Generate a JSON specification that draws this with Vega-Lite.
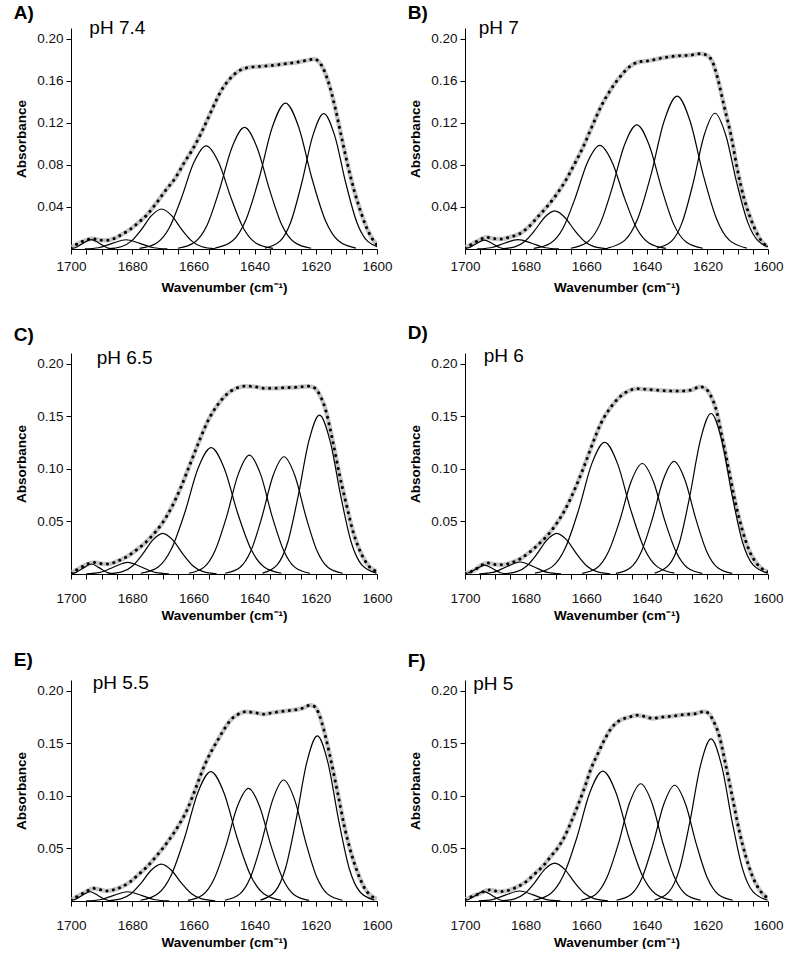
{
"$schema": "https://vega.github.io/schema/vega-lite/v6.json",
"background": "white",
"padding": {"left": 13, "top": 4, "right": 2, "bottom": 0},
"config": {
 "font": "Liberation Sans",
 "view": {"stroke": null},
 "axis": {"grid": false, "domainColor": "#000", "tickColor": "#000", "domainWidth": 1, "tickWidth": 1, "tickSize": 5, "labelFontSize": 13.5, "labelColor": "#111", "titleFontSize": 13.5, "titleFontWeight": "bold", "titleColor": "#000", "labelFont": "Liberation Sans", "titleFont": "Liberation Sans"},
 "axisX": {"labelOverlap": false, "labelFlush": false},
 "axisY": {"titlePadding": 8, "labelPadding": 3},
 "title": {"anchor": "start", "frame": "bounds", "fontSize": 19, "fontWeight": "bold", "font": "Liberation Sans", "color": "#000", "dx": -1}
},
"datasets": {"d": [
{"p":"A","s":"lab","x":1694,"y":0.204,"label":"pH 7.4"},
{"p":"B","s":"lab","x":1695.5,"y":0.204,"label":"pH 7"},
{"p":"C","s":"lab","x":1691.6,"y":0.2,"label":"pH 6.5"},
{"p":"D","s":"lab","x":1693.8,"y":0.2017,"label":"pH 6"},
{"p":"E","s":"lab","x":1692.9,"y":0.2012,"label":"pH 5.5"},
{"p":"F","s":"lab","x":1697.3,"y":0.2002,"label":"pH 5"},

{"p":"A","s":"c1","x":1701.2,"y":0.0001},{"p":"A","s":"c1","x":1698.6,"y":0.0012},{"p":"A","s":"c1","x":1696,"y":0.0055},{"p":"A","s":"c1","x":1693.4,"y":0.009},{"p":"A","s":"c1","x":1690.8,"y":0.0055},{"p":"A","s":"c1","x":1688.2,"y":0.0012},{"p":"A","s":"c1","x":1685.6,"y":0.0001},
{"p":"A","s":"c2","x":1695.5,"y":0.0001},{"p":"A","s":"c2","x":1691,"y":0.0012},{"p":"A","s":"c2","x":1686.5,"y":0.0053},{"p":"A","s":"c2","x":1682,"y":0.0088},{"p":"A","s":"c2","x":1677.5,"y":0.0053},{"p":"A","s":"c2","x":1673,"y":0.0012},{"p":"A","s":"c2","x":1668.5,"y":0.0001},
{"p":"A","s":"c3","x":1688,"y":0.0002},{"p":"A","s":"c3","x":1683.6,"y":0.0021},{"p":"A","s":"c3","x":1680.3,"y":0.0075},{"p":"A","s":"c3","x":1677,"y":0.0185},{"p":"A","s":"c3","x":1673.7,"y":0.0317},{"p":"A","s":"c3","x":1670.4,"y":0.038},{"p":"A","s":"c3","x":1667.1,"y":0.0317},{"p":"A","s":"c3","x":1663.8,"y":0.0185},{"p":"A","s":"c3","x":1660.5,"y":0.0075},{"p":"A","s":"c3","x":1657.2,"y":0.0021},{"p":"A","s":"c3","x":1652.8,"y":0.0002},
{"p":"A","s":"c4","x":1677.6,"y":0.0006},{"p":"A","s":"c4","x":1672.1,"y":0.0055},{"p":"A","s":"c4","x":1668,"y":0.0194},{"p":"A","s":"c4","x":1664,"y":0.0477},{"p":"A","s":"c4","x":1659.9,"y":0.0819},{"p":"A","s":"c4","x":1655.8,"y":0.098},{"p":"A","s":"c4","x":1651.7,"y":0.0819},{"p":"A","s":"c4","x":1647.6,"y":0.0477},{"p":"A","s":"c4","x":1643.6,"y":0.0194},{"p":"A","s":"c4","x":1639.5,"y":0.0055},{"p":"A","s":"c4","x":1634,"y":0.0006},
{"p":"A","s":"c5","x":1665.1,"y":0.0007},{"p":"A","s":"c5","x":1659.6,"y":0.0065},{"p":"A","s":"c5","x":1655.5,"y":0.0229},{"p":"A","s":"c5","x":1651.5,"y":0.0562},{"p":"A","s":"c5","x":1647.4,"y":0.0965},{"p":"A","s":"c5","x":1643.3,"y":0.1155},{"p":"A","s":"c5","x":1639.2,"y":0.0965},{"p":"A","s":"c5","x":1635.1,"y":0.0562},{"p":"A","s":"c5","x":1631.1,"y":0.0229},{"p":"A","s":"c5","x":1627,"y":0.0065},{"p":"A","s":"c5","x":1621.5,"y":0.0007},
{"p":"A","s":"c6","x":1652.9,"y":0.0008},{"p":"A","s":"c6","x":1647.2,"y":0.0078},{"p":"A","s":"c6","x":1642.9,"y":0.0274},{"p":"A","s":"c6","x":1638.5,"y":0.0675},{"p":"A","s":"c6","x":1634.2,"y":0.1159},{"p":"A","s":"c6","x":1629.9,"y":0.1387},{"p":"A","s":"c6","x":1625.6,"y":0.1159},{"p":"A","s":"c6","x":1621.3,"y":0.0675},{"p":"A","s":"c6","x":1616.9,"y":0.0274},{"p":"A","s":"c6","x":1612.6,"y":0.0078},{"p":"A","s":"c6","x":1606.9,"y":0.0008},
{"p":"A","s":"c7","x":1636.6,"y":0.0008},{"p":"A","s":"c7","x":1631.8,"y":0.0072},{"p":"A","s":"c7","x":1628.2,"y":0.0255},{"p":"A","s":"c7","x":1624.6,"y":0.0627},{"p":"A","s":"c7","x":1621,"y":0.1075},{"p":"A","s":"c7","x":1617.4,"y":0.1287},{"p":"A","s":"c7","x":1613.8,"y":0.1075},{"p":"A","s":"c7","x":1610.2,"y":0.0627},{"p":"A","s":"c7","x":1606.6,"y":0.0255},{"p":"A","s":"c7","x":1603,"y":0.0072},{"p":"A","s":"c7","x":1598.2,"y":0.0008},
{"p":"A","s":"t","x":1700,"y":0.001},{"p":"A","s":"t","x":1697.5,"y":0.0055},{"p":"A","s":"t","x":1695,"y":0.0085},{"p":"A","s":"t","x":1693,"y":0.0097},{"p":"A","s":"t","x":1690.5,"y":0.0085},{"p":"A","s":"t","x":1688,"y":0.0082},{"p":"A","s":"t","x":1685.5,"y":0.0105},{"p":"A","s":"t","x":1683,"y":0.0145},{"p":"A","s":"t","x":1680.5,"y":0.019},{"p":"A","s":"t","x":1678,"y":0.025},{"p":"A","s":"t","x":1675,"y":0.033},{"p":"A","s":"t","x":1672,"y":0.044},{"p":"A","s":"t","x":1669,"y":0.056},{"p":"A","s":"t","x":1666,"y":0.067},{"p":"A","s":"t","x":1663,"y":0.082},{"p":"A","s":"t","x":1660,"y":0.096},{"p":"A","s":"t","x":1657,"y":0.113},{"p":"A","s":"t","x":1654,"y":0.132},{"p":"A","s":"t","x":1651,"y":0.15},{"p":"A","s":"t","x":1648,"y":0.162},{"p":"A","s":"t","x":1645,"y":0.1695},{"p":"A","s":"t","x":1642,"y":0.1725},{"p":"A","s":"t","x":1638,"y":0.1735},{"p":"A","s":"t","x":1634,"y":0.1745},{"p":"A","s":"t","x":1630,"y":0.176},{"p":"A","s":"t","x":1626,"y":0.1775},{"p":"A","s":"t","x":1622.5,"y":0.1795},{"p":"A","s":"t","x":1620.5,"y":0.1805},{"p":"A","s":"t","x":1619,"y":0.178},{"p":"A","s":"t","x":1617.5,"y":0.171},{"p":"A","s":"t","x":1615.5,"y":0.155},{"p":"A","s":"t","x":1613.5,"y":0.132},{"p":"A","s":"t","x":1611.5,"y":0.105},{"p":"A","s":"t","x":1609.5,"y":0.079},{"p":"A","s":"t","x":1607.5,"y":0.056},{"p":"A","s":"t","x":1605.5,"y":0.037},{"p":"A","s":"t","x":1603.5,"y":0.021},{"p":"A","s":"t","x":1601.5,"y":0.0095},{"p":"A","s":"t","x":1600,"y":0.004},

{"p":"B","s":"c1","x":1701.4,"y":0.0001},{"p":"B","s":"c1","x":1698.8,"y":0.0012},{"p":"B","s":"c1","x":1696.2,"y":0.0052},{"p":"B","s":"c1","x":1693.6,"y":0.0085},{"p":"B","s":"c1","x":1691,"y":0.0052},{"p":"B","s":"c1","x":1688.4,"y":0.0012},{"p":"B","s":"c1","x":1685.8,"y":0.0001},
{"p":"B","s":"c2","x":1696,"y":0.0001},{"p":"B","s":"c2","x":1691.5,"y":0.0012},{"p":"B","s":"c2","x":1687,"y":0.0055},{"p":"B","s":"c2","x":1682.5,"y":0.009},{"p":"B","s":"c2","x":1678,"y":0.0055},{"p":"B","s":"c2","x":1673.5,"y":0.0012},{"p":"B","s":"c2","x":1669,"y":0.0001},
{"p":"B","s":"c3","x":1688,"y":0.0002},{"p":"B","s":"c3","x":1683.6,"y":0.002},{"p":"B","s":"c3","x":1680.3,"y":0.0072},{"p":"B","s":"c3","x":1677,"y":0.0176},{"p":"B","s":"c3","x":1673.7,"y":0.0302},{"p":"B","s":"c3","x":1670.4,"y":0.0362},{"p":"B","s":"c3","x":1667.1,"y":0.0302},{"p":"B","s":"c3","x":1663.8,"y":0.0176},{"p":"B","s":"c3","x":1660.5,"y":0.0072},{"p":"B","s":"c3","x":1657.2,"y":0.002},{"p":"B","s":"c3","x":1652.8,"y":0.0002},
{"p":"B","s":"c4","x":1677.3,"y":0.0006},{"p":"B","s":"c4","x":1671.8,"y":0.0055},{"p":"B","s":"c4","x":1667.7,"y":0.0195},{"p":"B","s":"c4","x":1663.7,"y":0.0479},{"p":"B","s":"c4","x":1659.6,"y":0.0823},{"p":"B","s":"c4","x":1655.5,"y":0.0985},{"p":"B","s":"c4","x":1651.4,"y":0.0823},{"p":"B","s":"c4","x":1647.3,"y":0.0479},{"p":"B","s":"c4","x":1643.3,"y":0.0195},{"p":"B","s":"c4","x":1639.2,"y":0.0055},{"p":"B","s":"c4","x":1633.7,"y":0.0006},
{"p":"B","s":"c5","x":1665.1,"y":0.0007},{"p":"B","s":"c5","x":1659.6,"y":0.0066},{"p":"B","s":"c5","x":1655.5,"y":0.0234},{"p":"B","s":"c5","x":1651.5,"y":0.0574},{"p":"B","s":"c5","x":1647.4,"y":0.0986},{"p":"B","s":"c5","x":1643.3,"y":0.118},{"p":"B","s":"c5","x":1639.2,"y":0.0986},{"p":"B","s":"c5","x":1635.1,"y":0.0574},{"p":"B","s":"c5","x":1631.1,"y":0.0234},{"p":"B","s":"c5","x":1627,"y":0.0066},{"p":"B","s":"c5","x":1621.5,"y":0.0007},
{"p":"B","s":"c6","x":1653,"y":0.0009},{"p":"B","s":"c6","x":1647.3,"y":0.0082},{"p":"B","s":"c6","x":1643,"y":0.0288},{"p":"B","s":"c6","x":1638.6,"y":0.0707},{"p":"B","s":"c6","x":1634.3,"y":0.1214},{"p":"B","s":"c6","x":1630,"y":0.1453},{"p":"B","s":"c6","x":1625.7,"y":0.1214},{"p":"B","s":"c6","x":1621.4,"y":0.0707},{"p":"B","s":"c6","x":1617,"y":0.0288},{"p":"B","s":"c6","x":1612.7,"y":0.0082},{"p":"B","s":"c6","x":1607,"y":0.0009},
{"p":"B","s":"c7","x":1636.7,"y":0.0008},{"p":"B","s":"c7","x":1631.9,"y":0.0072},{"p":"B","s":"c7","x":1628.3,"y":0.0255},{"p":"B","s":"c7","x":1624.7,"y":0.0628},{"p":"B","s":"c7","x":1621.1,"y":0.1078},{"p":"B","s":"c7","x":1617.5,"y":0.129},{"p":"B","s":"c7","x":1613.9,"y":0.1078},{"p":"B","s":"c7","x":1610.3,"y":0.0628},{"p":"B","s":"c7","x":1606.7,"y":0.0255},{"p":"B","s":"c7","x":1603.1,"y":0.0072},{"p":"B","s":"c7","x":1598.3,"y":0.0008},
{"p":"B","s":"t","x":1700,"y":0.001},{"p":"B","s":"t","x":1697.5,"y":0.005},{"p":"B","s":"t","x":1695,"y":0.009},{"p":"B","s":"t","x":1693,"y":0.0112},{"p":"B","s":"t","x":1690.5,"y":0.0098},{"p":"B","s":"t","x":1688,"y":0.0095},{"p":"B","s":"t","x":1685,"y":0.0115},{"p":"B","s":"t","x":1682,"y":0.0145},{"p":"B","s":"t","x":1679,"y":0.021},{"p":"B","s":"t","x":1676,"y":0.0305},{"p":"B","s":"t","x":1673,"y":0.04},{"p":"B","s":"t","x":1670,"y":0.051},{"p":"B","s":"t","x":1667,"y":0.064},{"p":"B","s":"t","x":1664,"y":0.08},{"p":"B","s":"t","x":1661,"y":0.097},{"p":"B","s":"t","x":1658,"y":0.117},{"p":"B","s":"t","x":1655,"y":0.136},{"p":"B","s":"t","x":1652,"y":0.151},{"p":"B","s":"t","x":1649,"y":0.163},{"p":"B","s":"t","x":1646,"y":0.1725},{"p":"B","s":"t","x":1643,"y":0.1775},{"p":"B","s":"t","x":1639,"y":0.179},{"p":"B","s":"t","x":1635,"y":0.1815},{"p":"B","s":"t","x":1630,"y":0.1835},{"p":"B","s":"t","x":1626,"y":0.184},{"p":"B","s":"t","x":1622.5,"y":0.1855},{"p":"B","s":"t","x":1620.5,"y":0.1845},{"p":"B","s":"t","x":1618.5,"y":0.179},{"p":"B","s":"t","x":1616.5,"y":0.161},{"p":"B","s":"t","x":1614.5,"y":0.136},{"p":"B","s":"t","x":1612,"y":0.105},{"p":"B","s":"t","x":1610,"y":0.074},{"p":"B","s":"t","x":1608,"y":0.049},{"p":"B","s":"t","x":1606,"y":0.031},{"p":"B","s":"t","x":1604,"y":0.017},{"p":"B","s":"t","x":1602,"y":0.007},{"p":"B","s":"t","x":1600,"y":0.002},

{"p":"C","s":"c1","x":1701.1,"y":0.0001},{"p":"C","s":"c1","x":1698.5,"y":0.0013},{"p":"C","s":"c1","x":1695.9,"y":0.0058},{"p":"C","s":"c1","x":1693.3,"y":0.0095},{"p":"C","s":"c1","x":1690.7,"y":0.0058},{"p":"C","s":"c1","x":1688.1,"y":0.0013},{"p":"C","s":"c1","x":1685.5,"y":0.0001},
{"p":"C","s":"c2","x":1695,"y":0.0001},{"p":"C","s":"c2","x":1690.5,"y":0.0015},{"p":"C","s":"c2","x":1686,"y":0.0067},{"p":"C","s":"c2","x":1681.5,"y":0.011},{"p":"C","s":"c2","x":1677,"y":0.0067},{"p":"C","s":"c2","x":1672.5,"y":0.0015},{"p":"C","s":"c2","x":1668,"y":0.0001},
{"p":"C","s":"c3","x":1687.6,"y":0.0002},{"p":"C","s":"c3","x":1683.2,"y":0.0022},{"p":"C","s":"c3","x":1679.9,"y":0.0076},{"p":"C","s":"c3","x":1676.6,"y":0.0188},{"p":"C","s":"c3","x":1673.3,"y":0.0322},{"p":"C","s":"c3","x":1670,"y":0.0386},{"p":"C","s":"c3","x":1666.7,"y":0.0322},{"p":"C","s":"c3","x":1663.4,"y":0.0188},{"p":"C","s":"c3","x":1660.1,"y":0.0076},{"p":"C","s":"c3","x":1656.8,"y":0.0022},{"p":"C","s":"c3","x":1652.4,"y":0.0002},
{"p":"C","s":"c4","x":1677.2,"y":0.0007},{"p":"C","s":"c4","x":1671.5,"y":0.0067},{"p":"C","s":"c4","x":1667.2,"y":0.0237},{"p":"C","s":"c4","x":1662.8,"y":0.0584},{"p":"C","s":"c4","x":1658.5,"y":0.1002},{"p":"C","s":"c4","x":1654.2,"y":0.12},{"p":"C","s":"c4","x":1649.9,"y":0.1002},{"p":"C","s":"c4","x":1645.6,"y":0.0584},{"p":"C","s":"c4","x":1641.2,"y":0.0237},{"p":"C","s":"c4","x":1636.9,"y":0.0067},{"p":"C","s":"c4","x":1631.2,"y":0.0007},
{"p":"C","s":"c5","x":1661.5,"y":0.0007},{"p":"C","s":"c5","x":1656.6,"y":0.0063},{"p":"C","s":"c5","x":1652.9,"y":0.0224},{"p":"C","s":"c5","x":1649.1,"y":0.055},{"p":"C","s":"c5","x":1645.4,"y":0.0944},{"p":"C","s":"c5","x":1641.7,"y":0.113},{"p":"C","s":"c5","x":1638,"y":0.0944},{"p":"C","s":"c5","x":1634.3,"y":0.055},{"p":"C","s":"c5","x":1630.5,"y":0.0224},{"p":"C","s":"c5","x":1626.8,"y":0.0063},{"p":"C","s":"c5","x":1621.9,"y":0.0007},
{"p":"C","s":"c6","x":1649.6,"y":0.0007},{"p":"C","s":"c6","x":1644.8,"y":0.0062},{"p":"C","s":"c6","x":1641.2,"y":0.022},{"p":"C","s":"c6","x":1637.6,"y":0.0542},{"p":"C","s":"c6","x":1634,"y":0.0931},{"p":"C","s":"c6","x":1630.4,"y":0.1114},{"p":"C","s":"c6","x":1626.8,"y":0.0931},{"p":"C","s":"c6","x":1623.2,"y":0.0542},{"p":"C","s":"c6","x":1619.6,"y":0.022},{"p":"C","s":"c6","x":1616,"y":0.0062},{"p":"C","s":"c6","x":1611.2,"y":0.0007},
{"p":"C","s":"c7","x":1637.4,"y":0.0009},{"p":"C","s":"c7","x":1632.7,"y":0.0085},{"p":"C","s":"c7","x":1629.2,"y":0.0299},{"p":"C","s":"c7","x":1625.8,"y":0.0735},{"p":"C","s":"c7","x":1622.3,"y":0.1261},{"p":"C","s":"c7","x":1618.8,"y":0.151},{"p":"C","s":"c7","x":1615.3,"y":0.1261},{"p":"C","s":"c7","x":1611.8,"y":0.0735},{"p":"C","s":"c7","x":1608.4,"y":0.0299},{"p":"C","s":"c7","x":1604.9,"y":0.0085},{"p":"C","s":"c7","x":1600.2,"y":0.0009},
{"p":"C","s":"t","x":1700,"y":0.001},{"p":"C","s":"t","x":1697.5,"y":0.005},{"p":"C","s":"t","x":1695,"y":0.009},{"p":"C","s":"t","x":1692.5,"y":0.011},{"p":"C","s":"t","x":1690,"y":0.0098},{"p":"C","s":"t","x":1687.5,"y":0.0096},{"p":"C","s":"t","x":1685,"y":0.012},{"p":"C","s":"t","x":1682,"y":0.016},{"p":"C","s":"t","x":1679,"y":0.022},{"p":"C","s":"t","x":1676,"y":0.029},{"p":"C","s":"t","x":1673,"y":0.038},{"p":"C","s":"t","x":1670,"y":0.049},{"p":"C","s":"t","x":1667,"y":0.064},{"p":"C","s":"t","x":1664,"y":0.083},{"p":"C","s":"t","x":1661,"y":0.105},{"p":"C","s":"t","x":1658,"y":0.127},{"p":"C","s":"t","x":1655,"y":0.147},{"p":"C","s":"t","x":1652,"y":0.161},{"p":"C","s":"t","x":1649,"y":0.171},{"p":"C","s":"t","x":1646,"y":0.1765},{"p":"C","s":"t","x":1643,"y":0.1785},{"p":"C","s":"t","x":1640,"y":0.178},{"p":"C","s":"t","x":1637,"y":0.1765},{"p":"C","s":"t","x":1634,"y":0.1765},{"p":"C","s":"t","x":1630,"y":0.177},{"p":"C","s":"t","x":1626,"y":0.1775},{"p":"C","s":"t","x":1622.5,"y":0.1785},{"p":"C","s":"t","x":1620.5,"y":0.177},{"p":"C","s":"t","x":1618.5,"y":0.169},{"p":"C","s":"t","x":1617,"y":0.158},{"p":"C","s":"t","x":1614.5,"y":0.127},{"p":"C","s":"t","x":1612.3,"y":0.095},{"p":"C","s":"t","x":1610,"y":0.066},{"p":"C","s":"t","x":1608,"y":0.042},{"p":"C","s":"t","x":1606,"y":0.025},{"p":"C","s":"t","x":1604,"y":0.013},{"p":"C","s":"t","x":1602,"y":0.0055},{"p":"C","s":"t","x":1600,"y":0.0025},

{"p":"D","s":"c1","x":1701.3,"y":0.0001},{"p":"D","s":"c1","x":1698.7,"y":0.0012},{"p":"D","s":"c1","x":1696.1,"y":0.0052},{"p":"D","s":"c1","x":1693.5,"y":0.0085},{"p":"D","s":"c1","x":1690.9,"y":0.0052},{"p":"D","s":"c1","x":1688.3,"y":0.0012},{"p":"D","s":"c1","x":1685.7,"y":0.0001},
{"p":"D","s":"c2","x":1695.3,"y":0.0001},{"p":"D","s":"c2","x":1690.8,"y":0.0015},{"p":"D","s":"c2","x":1686.3,"y":0.0069},{"p":"D","s":"c2","x":1681.8,"y":0.0114},{"p":"D","s":"c2","x":1677.3,"y":0.0069},{"p":"D","s":"c2","x":1672.8,"y":0.0015},{"p":"D","s":"c2","x":1668.3,"y":0.0001},
{"p":"D","s":"c3","x":1687.3,"y":0.0002},{"p":"D","s":"c3","x":1682.9,"y":0.0022},{"p":"D","s":"c3","x":1679.6,"y":0.0076},{"p":"D","s":"c3","x":1676.3,"y":0.0188},{"p":"D","s":"c3","x":1673,"y":0.0322},{"p":"D","s":"c3","x":1669.7,"y":0.0386},{"p":"D","s":"c3","x":1666.4,"y":0.0322},{"p":"D","s":"c3","x":1663.1,"y":0.0188},{"p":"D","s":"c3","x":1659.8,"y":0.0076},{"p":"D","s":"c3","x":1656.5,"y":0.0022},{"p":"D","s":"c3","x":1652.1,"y":0.0002},
{"p":"D","s":"c4","x":1676.9,"y":0.0008},{"p":"D","s":"c4","x":1671.2,"y":0.007},{"p":"D","s":"c4","x":1666.9,"y":0.0247},{"p":"D","s":"c4","x":1662.5,"y":0.0609},{"p":"D","s":"c4","x":1658.2,"y":0.1044},{"p":"D","s":"c4","x":1653.9,"y":0.125},{"p":"D","s":"c4","x":1649.6,"y":0.1044},{"p":"D","s":"c4","x":1645.3,"y":0.0609},{"p":"D","s":"c4","x":1640.9,"y":0.0247},{"p":"D","s":"c4","x":1636.6,"y":0.007},{"p":"D","s":"c4","x":1630.9,"y":0.0008},
{"p":"D","s":"c5","x":1661.3,"y":0.0006},{"p":"D","s":"c5","x":1656.4,"y":0.0059},{"p":"D","s":"c5","x":1652.7,"y":0.0208},{"p":"D","s":"c5","x":1648.9,"y":0.0511},{"p":"D","s":"c5","x":1645.2,"y":0.0877},{"p":"D","s":"c5","x":1641.5,"y":0.105},{"p":"D","s":"c5","x":1637.8,"y":0.0877},{"p":"D","s":"c5","x":1634.1,"y":0.0511},{"p":"D","s":"c5","x":1630.3,"y":0.0208},{"p":"D","s":"c5","x":1626.6,"y":0.0059},{"p":"D","s":"c5","x":1621.7,"y":0.0006},
{"p":"D","s":"c6","x":1650.2,"y":0.0006},{"p":"D","s":"c6","x":1645.4,"y":0.006},{"p":"D","s":"c6","x":1641.8,"y":0.0212},{"p":"D","s":"c6","x":1638.2,"y":0.0521},{"p":"D","s":"c6","x":1634.6,"y":0.0894},{"p":"D","s":"c6","x":1631,"y":0.107},{"p":"D","s":"c6","x":1627.4,"y":0.0894},{"p":"D","s":"c6","x":1623.8,"y":0.0521},{"p":"D","s":"c6","x":1620.2,"y":0.0212},{"p":"D","s":"c6","x":1616.6,"y":0.006},{"p":"D","s":"c6","x":1611.8,"y":0.0006},
{"p":"D","s":"c7","x":1637.4,"y":0.0009},{"p":"D","s":"c7","x":1632.7,"y":0.0086},{"p":"D","s":"c7","x":1629.2,"y":0.0302},{"p":"D","s":"c7","x":1625.8,"y":0.0742},{"p":"D","s":"c7","x":1622.3,"y":0.1274},{"p":"D","s":"c7","x":1618.8,"y":0.1525},{"p":"D","s":"c7","x":1615.3,"y":0.1274},{"p":"D","s":"c7","x":1611.8,"y":0.0742},{"p":"D","s":"c7","x":1608.4,"y":0.0302},{"p":"D","s":"c7","x":1604.9,"y":0.0086},{"p":"D","s":"c7","x":1600.2,"y":0.0009},
{"p":"D","s":"t","x":1700,"y":0.0006},{"p":"D","s":"t","x":1697,"y":0.0035},{"p":"D","s":"t","x":1694.5,"y":0.0085},{"p":"D","s":"t","x":1692.5,"y":0.0105},{"p":"D","s":"t","x":1690,"y":0.009},{"p":"D","s":"t","x":1687.5,"y":0.0088},{"p":"D","s":"t","x":1685,"y":0.0105},{"p":"D","s":"t","x":1682,"y":0.014},{"p":"D","s":"t","x":1679,"y":0.02},{"p":"D","s":"t","x":1676,"y":0.0275},{"p":"D","s":"t","x":1673,"y":0.036},{"p":"D","s":"t","x":1670,"y":0.047},{"p":"D","s":"t","x":1667,"y":0.061},{"p":"D","s":"t","x":1664,"y":0.079},{"p":"D","s":"t","x":1661,"y":0.1},{"p":"D","s":"t","x":1658,"y":0.123},{"p":"D","s":"t","x":1655,"y":0.144},{"p":"D","s":"t","x":1652,"y":0.158},{"p":"D","s":"t","x":1649,"y":0.168},{"p":"D","s":"t","x":1646,"y":0.174},{"p":"D","s":"t","x":1643,"y":0.176},{"p":"D","s":"t","x":1640,"y":0.1755},{"p":"D","s":"t","x":1636,"y":0.1745},{"p":"D","s":"t","x":1632,"y":0.174},{"p":"D","s":"t","x":1628,"y":0.174},{"p":"D","s":"t","x":1625,"y":0.175},{"p":"D","s":"t","x":1622.5,"y":0.178},{"p":"D","s":"t","x":1620.5,"y":0.176},{"p":"D","s":"t","x":1619,"y":0.17},{"p":"D","s":"t","x":1617,"y":0.155},{"p":"D","s":"t","x":1615,"y":0.128},{"p":"D","s":"t","x":1612.8,"y":0.097},{"p":"D","s":"t","x":1610.7,"y":0.067},{"p":"D","s":"t","x":1608.5,"y":0.042},{"p":"D","s":"t","x":1606.3,"y":0.023},{"p":"D","s":"t","x":1604,"y":0.011},{"p":"D","s":"t","x":1602,"y":0.005},{"p":"D","s":"t","x":1600,"y":0.002},

{"p":"E","s":"c1","x":1701.6,"y":0.0001},{"p":"E","s":"c1","x":1699,"y":0.0012},{"p":"E","s":"c1","x":1696.4,"y":0.0053},{"p":"E","s":"c1","x":1693.8,"y":0.0088},{"p":"E","s":"c1","x":1691.2,"y":0.0053},{"p":"E","s":"c1","x":1688.6,"y":0.0012},{"p":"E","s":"c1","x":1686,"y":0.0001},
{"p":"E","s":"c2","x":1695,"y":0.0001},{"p":"E","s":"c2","x":1690.5,"y":0.0012},{"p":"E","s":"c2","x":1686,"y":0.0053},{"p":"E","s":"c2","x":1681.5,"y":0.0088},{"p":"E","s":"c2","x":1677,"y":0.0053},{"p":"E","s":"c2","x":1672.5,"y":0.0012},{"p":"E","s":"c2","x":1668,"y":0.0001},
{"p":"E","s":"c3","x":1688.1,"y":0.0002},{"p":"E","s":"c3","x":1683.7,"y":0.002},{"p":"E","s":"c3","x":1680.4,"y":0.0069},{"p":"E","s":"c3","x":1677.1,"y":0.017},{"p":"E","s":"c3","x":1673.8,"y":0.0292},{"p":"E","s":"c3","x":1670.5,"y":0.035},{"p":"E","s":"c3","x":1667.2,"y":0.0292},{"p":"E","s":"c3","x":1663.9,"y":0.017},{"p":"E","s":"c3","x":1660.6,"y":0.0069},{"p":"E","s":"c3","x":1657.3,"y":0.002},{"p":"E","s":"c3","x":1652.9,"y":0.0002},
{"p":"E","s":"c4","x":1677.3,"y":0.0007},{"p":"E","s":"c4","x":1671.6,"y":0.0069},{"p":"E","s":"c4","x":1667.3,"y":0.0243},{"p":"E","s":"c4","x":1662.9,"y":0.0599},{"p":"E","s":"c4","x":1658.6,"y":0.1027},{"p":"E","s":"c4","x":1654.3,"y":0.123},{"p":"E","s":"c4","x":1650,"y":0.1027},{"p":"E","s":"c4","x":1645.7,"y":0.0599},{"p":"E","s":"c4","x":1641.3,"y":0.0243},{"p":"E","s":"c4","x":1637,"y":0.0069},{"p":"E","s":"c4","x":1631.3,"y":0.0007},
{"p":"E","s":"c5","x":1661.8,"y":0.0006},{"p":"E","s":"c5","x":1656.9,"y":0.006},{"p":"E","s":"c5","x":1653.2,"y":0.0212},{"p":"E","s":"c5","x":1649.4,"y":0.0521},{"p":"E","s":"c5","x":1645.7,"y":0.0894},{"p":"E","s":"c5","x":1642,"y":0.107},{"p":"E","s":"c5","x":1638.3,"y":0.0894},{"p":"E","s":"c5","x":1634.6,"y":0.0521},{"p":"E","s":"c5","x":1630.8,"y":0.0212},{"p":"E","s":"c5","x":1627.1,"y":0.006},{"p":"E","s":"c5","x":1622.2,"y":0.0006},
{"p":"E","s":"c6","x":1649.7,"y":0.0007},{"p":"E","s":"c6","x":1644.9,"y":0.0065},{"p":"E","s":"c6","x":1641.3,"y":0.0228},{"p":"E","s":"c6","x":1637.7,"y":0.056},{"p":"E","s":"c6","x":1634.1,"y":0.0961},{"p":"E","s":"c6","x":1630.5,"y":0.115},{"p":"E","s":"c6","x":1626.9,"y":0.0961},{"p":"E","s":"c6","x":1623.3,"y":0.056},{"p":"E","s":"c6","x":1619.7,"y":0.0228},{"p":"E","s":"c6","x":1616.1,"y":0.0065},{"p":"E","s":"c6","x":1611.3,"y":0.0007},
{"p":"E","s":"c7","x":1638.1,"y":0.0009},{"p":"E","s":"c7","x":1633.4,"y":0.0088},{"p":"E","s":"c7","x":1629.9,"y":0.0311},{"p":"E","s":"c7","x":1626.5,"y":0.0764},{"p":"E","s":"c7","x":1623,"y":0.1311},{"p":"E","s":"c7","x":1619.5,"y":0.157},{"p":"E","s":"c7","x":1616,"y":0.1311},{"p":"E","s":"c7","x":1612.5,"y":0.0764},{"p":"E","s":"c7","x":1609.1,"y":0.0311},{"p":"E","s":"c7","x":1605.6,"y":0.0088},{"p":"E","s":"c7","x":1600.9,"y":0.0009},
{"p":"E","s":"t","x":1700,"y":0.001},{"p":"E","s":"t","x":1697.5,"y":0.005},{"p":"E","s":"t","x":1695,"y":0.009},{"p":"E","s":"t","x":1692.5,"y":0.012},{"p":"E","s":"t","x":1690.5,"y":0.0108},{"p":"E","s":"t","x":1688.5,"y":0.0095},{"p":"E","s":"t","x":1686,"y":0.0107},{"p":"E","s":"t","x":1683,"y":0.014},{"p":"E","s":"t","x":1680.5,"y":0.0186},{"p":"E","s":"t","x":1678,"y":0.025},{"p":"E","s":"t","x":1675,"y":0.033},{"p":"E","s":"t","x":1672,"y":0.043},{"p":"E","s":"t","x":1669.5,"y":0.052},{"p":"E","s":"t","x":1667,"y":0.062},{"p":"E","s":"t","x":1665,"y":0.071},{"p":"E","s":"t","x":1662,"y":0.087},{"p":"E","s":"t","x":1659,"y":0.109},{"p":"E","s":"t","x":1656.5,"y":0.128},{"p":"E","s":"t","x":1654,"y":0.143},{"p":"E","s":"t","x":1652,"y":0.153},{"p":"E","s":"t","x":1650,"y":0.163},{"p":"E","s":"t","x":1647.5,"y":0.173},{"p":"E","s":"t","x":1645,"y":0.178},{"p":"E","s":"t","x":1643,"y":0.1798},{"p":"E","s":"t","x":1640,"y":0.179},{"p":"E","s":"t","x":1637,"y":0.1775},{"p":"E","s":"t","x":1634,"y":0.179},{"p":"E","s":"t","x":1630,"y":0.1805},{"p":"E","s":"t","x":1626,"y":0.182},{"p":"E","s":"t","x":1624,"y":0.1835},{"p":"E","s":"t","x":1622,"y":0.186},{"p":"E","s":"t","x":1620.5,"y":0.185},{"p":"E","s":"t","x":1619,"y":0.178},{"p":"E","s":"t","x":1617.5,"y":0.164},{"p":"E","s":"t","x":1615,"y":0.133},{"p":"E","s":"t","x":1612.8,"y":0.102},{"p":"E","s":"t","x":1610.6,"y":0.07},{"p":"E","s":"t","x":1608.4,"y":0.045},{"p":"E","s":"t","x":1606.2,"y":0.026},{"p":"E","s":"t","x":1604,"y":0.012},{"p":"E","s":"t","x":1602,"y":0.005},{"p":"E","s":"t","x":1600,"y":0.002},

{"p":"F","s":"c1","x":1701.6,"y":0.0001},{"p":"F","s":"c1","x":1699,"y":0.0012},{"p":"F","s":"c1","x":1696.4,"y":0.0055},{"p":"F","s":"c1","x":1693.8,"y":0.009},{"p":"F","s":"c1","x":1691.2,"y":0.0055},{"p":"F","s":"c1","x":1688.6,"y":0.0012},{"p":"F","s":"c1","x":1686,"y":0.0001},
{"p":"F","s":"c2","x":1695.5,"y":0.0001},{"p":"F","s":"c2","x":1691,"y":0.0013},{"p":"F","s":"c2","x":1686.5,"y":0.0058},{"p":"F","s":"c2","x":1682,"y":0.0095},{"p":"F","s":"c2","x":1677.5,"y":0.0058},{"p":"F","s":"c2","x":1673,"y":0.0013},{"p":"F","s":"c2","x":1668.5,"y":0.0001},
{"p":"F","s":"c3","x":1688,"y":0.0002},{"p":"F","s":"c3","x":1683.6,"y":0.002},{"p":"F","s":"c3","x":1680.3,"y":0.0071},{"p":"F","s":"c3","x":1677,"y":0.0175},{"p":"F","s":"c3","x":1673.7,"y":0.0301},{"p":"F","s":"c3","x":1670.4,"y":0.036},{"p":"F","s":"c3","x":1667.1,"y":0.0301},{"p":"F","s":"c3","x":1663.8,"y":0.0175},{"p":"F","s":"c3","x":1660.5,"y":0.0071},{"p":"F","s":"c3","x":1657.2,"y":0.002},{"p":"F","s":"c3","x":1652.8,"y":0.0002},
{"p":"F","s":"c4","x":1677.5,"y":0.0007},{"p":"F","s":"c4","x":1671.8,"y":0.0069},{"p":"F","s":"c4","x":1667.5,"y":0.0244},{"p":"F","s":"c4","x":1663.1,"y":0.0601},{"p":"F","s":"c4","x":1658.8,"y":0.1031},{"p":"F","s":"c4","x":1654.5,"y":0.1234},{"p":"F","s":"c4","x":1650.2,"y":0.1031},{"p":"F","s":"c4","x":1645.9,"y":0.0601},{"p":"F","s":"c4","x":1641.5,"y":0.0244},{"p":"F","s":"c4","x":1637.2,"y":0.0069},{"p":"F","s":"c4","x":1631.5,"y":0.0007},
{"p":"F","s":"c5","x":1661.8,"y":0.0007},{"p":"F","s":"c5","x":1656.9,"y":0.0062},{"p":"F","s":"c5","x":1653.2,"y":0.022},{"p":"F","s":"c5","x":1649.4,"y":0.0542},{"p":"F","s":"c5","x":1645.7,"y":0.0931},{"p":"F","s":"c5","x":1642,"y":0.1114},{"p":"F","s":"c5","x":1638.3,"y":0.0931},{"p":"F","s":"c5","x":1634.6,"y":0.0542},{"p":"F","s":"c5","x":1630.8,"y":0.022},{"p":"F","s":"c5","x":1627.1,"y":0.0062},{"p":"F","s":"c5","x":1622.2,"y":0.0007},
{"p":"F","s":"c6","x":1650,"y":0.0007},{"p":"F","s":"c6","x":1645.2,"y":0.0062},{"p":"F","s":"c6","x":1641.6,"y":0.0218},{"p":"F","s":"c6","x":1638,"y":0.0535},{"p":"F","s":"c6","x":1634.4,"y":0.0919},{"p":"F","s":"c6","x":1630.8,"y":0.11},{"p":"F","s":"c6","x":1627.2,"y":0.0919},{"p":"F","s":"c6","x":1623.6,"y":0.0535},{"p":"F","s":"c6","x":1620,"y":0.0218},{"p":"F","s":"c6","x":1616.4,"y":0.0062},{"p":"F","s":"c6","x":1611.6,"y":0.0007},
{"p":"F","s":"c7","x":1637.4,"y":0.0009},{"p":"F","s":"c7","x":1632.7,"y":0.0086},{"p":"F","s":"c7","x":1629.2,"y":0.0305},{"p":"F","s":"c7","x":1625.8,"y":0.075},{"p":"F","s":"c7","x":1622.3,"y":0.1286},{"p":"F","s":"c7","x":1618.8,"y":0.154},{"p":"F","s":"c7","x":1615.3,"y":0.1286},{"p":"F","s":"c7","x":1611.8,"y":0.075},{"p":"F","s":"c7","x":1608.4,"y":0.0305},{"p":"F","s":"c7","x":1604.9,"y":0.0086},{"p":"F","s":"c7","x":1600.2,"y":0.0009},
{"p":"F","s":"t","x":1700,"y":0.0015},{"p":"F","s":"t","x":1697.5,"y":0.0045},{"p":"F","s":"t","x":1695.4,"y":0.0068},{"p":"F","s":"t","x":1693,"y":0.01},{"p":"F","s":"t","x":1691.5,"y":0.0105},{"p":"F","s":"t","x":1689,"y":0.009},{"p":"F","s":"t","x":1686.5,"y":0.0095},{"p":"F","s":"t","x":1683.5,"y":0.0125},{"p":"F","s":"t","x":1680,"y":0.018},{"p":"F","s":"t","x":1677,"y":0.0258},{"p":"F","s":"t","x":1674,"y":0.034},{"p":"F","s":"t","x":1671.5,"y":0.043},{"p":"F","s":"t","x":1669,"y":0.052},{"p":"F","s":"t","x":1667,"y":0.062},{"p":"F","s":"t","x":1665,"y":0.075},{"p":"F","s":"t","x":1663,"y":0.089},{"p":"F","s":"t","x":1660.5,"y":0.108},{"p":"F","s":"t","x":1658.5,"y":0.125},{"p":"F","s":"t","x":1656,"y":0.141},{"p":"F","s":"t","x":1654,"y":0.153},{"p":"F","s":"t","x":1651.5,"y":0.165},{"p":"F","s":"t","x":1649,"y":0.1715},{"p":"F","s":"t","x":1646,"y":0.1745},{"p":"F","s":"t","x":1643.5,"y":0.1765},{"p":"F","s":"t","x":1641,"y":0.1755},{"p":"F","s":"t","x":1638,"y":0.1735},{"p":"F","s":"t","x":1635.5,"y":0.1745},{"p":"F","s":"t","x":1632,"y":0.1755},{"p":"F","s":"t","x":1628,"y":0.177},{"p":"F","s":"t","x":1624,"y":0.178},{"p":"F","s":"t","x":1621,"y":0.18},{"p":"F","s":"t","x":1619.5,"y":0.178},{"p":"F","s":"t","x":1618,"y":0.171},{"p":"F","s":"t","x":1616,"y":0.156},{"p":"F","s":"t","x":1614,"y":0.13},{"p":"F","s":"t","x":1611.7,"y":0.098},{"p":"F","s":"t","x":1609.6,"y":0.068},{"p":"F","s":"t","x":1607.4,"y":0.043},{"p":"F","s":"t","x":1605.2,"y":0.024},{"p":"F","s":"t","x":1603,"y":0.0115},{"p":"F","s":"t","x":1601.5,"y":0.006},{"p":"F","s":"t","x":1600,"y":0.0027}
]},
"columns": 2,
"spacing": {"row": 29, "column": 14},
"concat": [
{"title": {"text": "A)", "offset": -4}, "width": 306, "height": 221, "data": {"name": "d"}, "transform": [{"filter": "datum.p == 'A'"}],
 "encoding": {
  "x": {"field": "x", "type": "quantitative", "scale": {"domain": [1600, 1700], "reverse": true, "nice": false, "zero": false}, "axis": {"values": [1600,1605,1610,1615,1620,1625,1630,1635,1640,1645,1650,1655,1660,1665,1670,1675,1680,1685,1690,1695,1700], "format": "d", "labelExpr": "datum.value % 20 == 0 ? datum.label : ''", "labelPadding": 5, "titlePadding": 8, "title": "Wavenumber (cm⁻¹)"}},
  "y": {"field": "y", "type": "quantitative", "scale": {"domain": [0, 0.21], "nice": false, "zero": false}, "axis": {"values": [0.04, 0.08, 0.12, 0.16, 0.2], "format": ".2f", "title": "Absorbance"}}},
 "layer": [
  {"transform": [{"filter": "datum.s == 't'"}], "mark": {"type": "line", "color": "#c6c6c6", "strokeWidth": 4.5, "interpolate": "monotone", "clip": true}, "encoding": {}},
  {"transform": [{"filter": "datum.s != 't' && datum.s != 'lab'"}], "mark": {"type": "line", "color": "#000", "strokeWidth": 1.2, "interpolate": "monotone", "clip": true}, "encoding": {"detail": {"field": "s"}}},
  {"transform": [{"filter": "datum.s == 't'"}], "mark": {"type": "line", "color": "#000", "strokeWidth": 3, "strokeCap": "round", "strokeDash": [0.1, 6.4], "interpolate": "monotone", "clip": true}, "encoding": {}},
  {"transform": [{"filter": "datum.s == 'lab'"}], "mark": {"type": "text", "align": "left", "baseline": "alphabetic", "fontSize": 19, "font": "Liberation Sans", "color": "#000"}, "encoding": {"text": {"field": "label"}}}
 ]},
{"title": {"text": "B)", "offset": -4}, "width": 303, "height": 221, "data": {"name": "d"}, "transform": [{"filter": "datum.p == 'B'"}],
 "encoding": {
  "x": {"field": "x", "type": "quantitative", "scale": {"domain": [1600, 1700], "reverse": true, "nice": false, "zero": false}, "axis": {"values": [1600,1605,1610,1615,1620,1625,1630,1635,1640,1645,1650,1655,1660,1665,1670,1675,1680,1685,1690,1695,1700], "format": "d", "labelExpr": "datum.value % 20 == 0 ? datum.label : ''", "labelPadding": 5, "titlePadding": 8, "title": "Wavenumber (cm⁻¹)"}},
  "y": {"field": "y", "type": "quantitative", "scale": {"domain": [0, 0.21], "nice": false, "zero": false}, "axis": {"values": [0.04, 0.08, 0.12, 0.16, 0.2], "format": ".2f", "title": "Absorbance"}}},
 "layer": [
  {"transform": [{"filter": "datum.s == 't'"}], "mark": {"type": "line", "color": "#c6c6c6", "strokeWidth": 4.5, "interpolate": "monotone", "clip": true}, "encoding": {}},
  {"transform": [{"filter": "datum.s != 't' && datum.s != 'lab'"}], "mark": {"type": "line", "color": "#000", "strokeWidth": 1.2, "interpolate": "monotone", "clip": true}, "encoding": {"detail": {"field": "s"}}},
  {"transform": [{"filter": "datum.s == 't'"}], "mark": {"type": "line", "color": "#000", "strokeWidth": 3, "strokeCap": "round", "strokeDash": [0.1, 6.4], "interpolate": "monotone", "clip": true}, "encoding": {}},
  {"transform": [{"filter": "datum.s == 'lab'"}], "mark": {"type": "text", "align": "left", "baseline": "alphabetic", "fontSize": 19, "font": "Liberation Sans", "color": "#000"}, "encoding": {"text": {"field": "label"}}}
 ]},
{"title": {"text": "C)", "offset": 4}, "width": 306, "height": 221, "data": {"name": "d"}, "transform": [{"filter": "datum.p == 'C'"}],
 "encoding": {
  "x": {"field": "x", "type": "quantitative", "scale": {"domain": [1600, 1700], "reverse": true, "nice": false, "zero": false}, "axis": {"values": [1600,1605,1610,1615,1620,1625,1630,1635,1640,1645,1650,1655,1660,1665,1670,1675,1680,1685,1690,1695,1700], "format": "d", "labelExpr": "datum.value % 20 == 0 ? datum.label : ''", "labelPadding": 12, "titlePadding": 4, "title": "Wavenumber (cm⁻¹)"}},
  "y": {"field": "y", "type": "quantitative", "scale": {"domain": [0, 0.21], "nice": false, "zero": false}, "axis": {"values": [0.05, 0.1, 0.15, 0.2], "format": ".2f", "title": "Absorbance"}}},
 "layer": [
  {"transform": [{"filter": "datum.s == 't'"}], "mark": {"type": "line", "color": "#c6c6c6", "strokeWidth": 4.5, "interpolate": "monotone", "clip": true}, "encoding": {}},
  {"transform": [{"filter": "datum.s != 't' && datum.s != 'lab'"}], "mark": {"type": "line", "color": "#000", "strokeWidth": 1.2, "interpolate": "monotone", "clip": true}, "encoding": {"detail": {"field": "s"}}},
  {"transform": [{"filter": "datum.s == 't'"}], "mark": {"type": "line", "color": "#000", "strokeWidth": 3, "strokeCap": "round", "strokeDash": [0.1, 6.4], "interpolate": "monotone", "clip": true}, "encoding": {}},
  {"transform": [{"filter": "datum.s == 'lab'"}], "mark": {"type": "text", "align": "left", "baseline": "alphabetic", "fontSize": 19, "font": "Liberation Sans", "color": "#000"}, "encoding": {"text": {"field": "label"}}}
 ]},
{"title": {"text": "D)", "offset": 4}, "width": 303, "height": 221, "data": {"name": "d"}, "transform": [{"filter": "datum.p == 'D'"}],
 "encoding": {
  "x": {"field": "x", "type": "quantitative", "scale": {"domain": [1600, 1700], "reverse": true, "nice": false, "zero": false}, "axis": {"values": [1600,1605,1610,1615,1620,1625,1630,1635,1640,1645,1650,1655,1660,1665,1670,1675,1680,1685,1690,1695,1700], "format": "d", "labelExpr": "datum.value % 20 == 0 ? datum.label : ''", "labelPadding": 12, "titlePadding": 4, "title": "Wavenumber (cm⁻¹)"}},
  "y": {"field": "y", "type": "quantitative", "scale": {"domain": [0, 0.21], "nice": false, "zero": false}, "axis": {"values": [0.05, 0.1, 0.15, 0.2], "format": ".2f", "title": "Absorbance"}}},
 "layer": [
  {"transform": [{"filter": "datum.s == 't'"}], "mark": {"type": "line", "color": "#c6c6c6", "strokeWidth": 4.5, "interpolate": "monotone", "clip": true}, "encoding": {}},
  {"transform": [{"filter": "datum.s != 't' && datum.s != 'lab'"}], "mark": {"type": "line", "color": "#000", "strokeWidth": 1.2, "interpolate": "monotone", "clip": true}, "encoding": {"detail": {"field": "s"}}},
  {"transform": [{"filter": "datum.s == 't'"}], "mark": {"type": "line", "color": "#000", "strokeWidth": 3, "strokeCap": "round", "strokeDash": [0.1, 6.4], "interpolate": "monotone", "clip": true}, "encoding": {}},
  {"transform": [{"filter": "datum.s == 'lab'"}], "mark": {"type": "text", "align": "left", "baseline": "alphabetic", "fontSize": 19, "font": "Liberation Sans", "color": "#000"}, "encoding": {"text": {"field": "label"}}}
 ]},
{"title": {"text": "E)", "offset": 4}, "width": 306, "height": 221, "data": {"name": "d"}, "transform": [{"filter": "datum.p == 'E'"}],
 "encoding": {
  "x": {"field": "x", "type": "quantitative", "scale": {"domain": [1600, 1700], "reverse": true, "nice": false, "zero": false}, "axis": {"values": [1600,1605,1610,1615,1620,1625,1630,1635,1640,1645,1650,1655,1660,1665,1670,1675,1680,1685,1690,1695,1700], "format": "d", "labelExpr": "datum.value % 20 == 0 ? datum.label : ''", "labelPadding": 12, "titlePadding": 4, "title": "Wavenumber (cm⁻¹)"}},
  "y": {"field": "y", "type": "quantitative", "scale": {"domain": [0, 0.21], "nice": false, "zero": false}, "axis": {"values": [0.05, 0.1, 0.15, 0.2], "format": ".2f", "title": "Absorbance"}}},
 "layer": [
  {"transform": [{"filter": "datum.s == 't'"}], "mark": {"type": "line", "color": "#c6c6c6", "strokeWidth": 4.5, "interpolate": "monotone", "clip": true}, "encoding": {}},
  {"transform": [{"filter": "datum.s != 't' && datum.s != 'lab'"}], "mark": {"type": "line", "color": "#000", "strokeWidth": 1.2, "interpolate": "monotone", "clip": true}, "encoding": {"detail": {"field": "s"}}},
  {"transform": [{"filter": "datum.s == 't'"}], "mark": {"type": "line", "color": "#000", "strokeWidth": 3, "strokeCap": "round", "strokeDash": [0.1, 6.4], "interpolate": "monotone", "clip": true}, "encoding": {}},
  {"transform": [{"filter": "datum.s == 'lab'"}], "mark": {"type": "text", "align": "left", "baseline": "alphabetic", "fontSize": 19, "font": "Liberation Sans", "color": "#000"}, "encoding": {"text": {"field": "label"}}}
 ]},
{"title": {"text": "F)", "offset": 4}, "width": 303, "height": 221, "data": {"name": "d"}, "transform": [{"filter": "datum.p == 'F'"}],
 "encoding": {
  "x": {"field": "x", "type": "quantitative", "scale": {"domain": [1600, 1700], "reverse": true, "nice": false, "zero": false}, "axis": {"values": [1600,1605,1610,1615,1620,1625,1630,1635,1640,1645,1650,1655,1660,1665,1670,1675,1680,1685,1690,1695,1700], "format": "d", "labelExpr": "datum.value % 20 == 0 ? datum.label : ''", "labelPadding": 12, "titlePadding": 4, "title": "Wavenumber (cm⁻¹)"}},
  "y": {"field": "y", "type": "quantitative", "scale": {"domain": [0, 0.21], "nice": false, "zero": false}, "axis": {"values": [0.05, 0.1, 0.15, 0.2], "format": ".2f", "title": "Absorbance"}}},
 "layer": [
  {"transform": [{"filter": "datum.s == 't'"}], "mark": {"type": "line", "color": "#c6c6c6", "strokeWidth": 4.5, "interpolate": "monotone", "clip": true}, "encoding": {}},
  {"transform": [{"filter": "datum.s != 't' && datum.s != 'lab'"}], "mark": {"type": "line", "color": "#000", "strokeWidth": 1.2, "interpolate": "monotone", "clip": true}, "encoding": {"detail": {"field": "s"}}},
  {"transform": [{"filter": "datum.s == 't'"}], "mark": {"type": "line", "color": "#000", "strokeWidth": 3, "strokeCap": "round", "strokeDash": [0.1, 6.4], "interpolate": "monotone", "clip": true}, "encoding": {}},
  {"transform": [{"filter": "datum.s == 'lab'"}], "mark": {"type": "text", "align": "left", "baseline": "alphabetic", "fontSize": 19, "font": "Liberation Sans", "color": "#000"}, "encoding": {"text": {"field": "label"}}}
 ]}
]
}
